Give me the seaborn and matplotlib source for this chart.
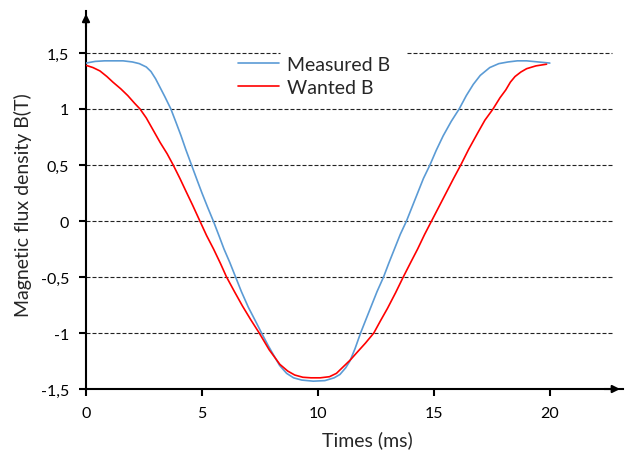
import pandas as pd
import seaborn as sns
import matplotlib.pyplot as plt
from matplotlib.lines import Line2D

# values
t_measured = [0, 0.4, 0.8, 1.2, 1.6, 2.0, 2.3, 2.6, 2.8, 3.0, 3.2, 3.4, 3.66, 3.9,
              4.1, 4.3, 4.55, 4.8, 5.0, 5.25, 5.49, 5.75, 5.95, 6.2, 6.45, 6.7, 7.0,
              7.3, 7.57, 7.85, 8.07, 8.35, 8.65, 8.95, 9.3, 9.8, 10.3, 10.7, 10.95,
              11.2, 11.38, 11.6, 11.84, 12.05, 12.3, 12.55, 12.83, 13.05, 13.3, 13.55,
              13.82, 14.05, 14.3, 14.55, 14.83, 15.1, 15.4, 15.75, 16.09, 16.4, 16.7,
              17.0, 17.41, 17.8, 18.2, 18.6, 19.0, 19.5, 20.0]
b_measured = [1.41, 1.425, 1.43, 1.43, 1.43, 1.42, 1.405, 1.375, 1.335, 1.27, 1.19, 1.11,
              1.0, 0.87, 0.76, 0.64, 0.5, 0.36, 0.25, 0.12, 0.0, -0.14, -0.25, -0.37,
              -0.5, -0.63, -0.77, -0.89, -1.0, -1.11, -1.19, -1.29, -1.36, -1.4, -1.42,
              -1.43, -1.425, -1.4, -1.37, -1.31, -1.25, -1.14, -1.0, -0.89, -0.76,
              -0.63, -0.5, -0.38, -0.25, -0.12, 0.0, 0.12, 0.25, 0.38, 0.5, 0.63, 0.76,
              0.89, 1.0, 1.12, 1.22, 1.3, 1.37, 1.405, 1.42, 1.43, 1.43, 1.42, 1.41]

t_wanted = [0, 0.3, 0.6, 0.9, 1.16, 1.5, 1.8, 2.1, 2.33, 2.6, 2.9, 3.2, 3.5, 3.76, 4.05,
            4.3, 4.6, 4.91, 5.2, 5.5, 5.8, 6.06, 6.4, 6.75, 7.1, 7.47, 7.9, 8.36, 8.7,
            9.0, 9.35, 9.7, 10.1, 10.5, 10.8, 11.1, 11.4, 11.7, 12.05, 12.41, 12.7,
            13.0, 13.35, 13.68, 14.0, 14.3, 14.6, 14.9, 15.2, 15.5, 15.85, 16.16, 16.5,
            16.9, 17.2, 17.55, 17.85, 18.1, 18.3, 18.5, 18.75, 19.0, 19.4, 19.86]
b_wanted = [1.39, 1.37, 1.34, 1.29, 1.24, 1.18, 1.12, 1.05, 1.0, 0.92, 0.81, 0.7, 0.6,
            0.5, 0.38, 0.27, 0.14, 0.0, -0.13, -0.25, -0.38, -0.5, -0.63, -0.76, -0.88,
            -1.0, -1.15, -1.28, -1.34, -1.375, -1.395, -1.4, -1.4, -1.39, -1.36, -1.3,
            -1.24, -1.17, -1.09, -1.0, -0.89, -0.78, -0.64, -0.5, -0.37, -0.25, -0.12,
            0.0, 0.12, 0.24, 0.38, 0.5, 0.64, 0.79, 0.9, 1.0, 1.1, 1.17, 1.24, 1.29,
            1.33, 1.36, 1.385, 1.4]

x_ticks = [0, 5, 10, 15, 20]
y_ticks = [-1.5, -1, -0.5, 0, 0.5, 1, 1.5]
y_labels = ["-1,5", "-1", "-0,5", "0", "0,5", "1", "1,5"]
grid_levels = [-1, -0.5, 0, 0.5, 1]

colors = {"Measured B": "#5b9bd5", "Wanted B": "#ff0000"}

sns.set_style("white")
plt.rcParams["font.family"] = ["Lato", "DejaVu Sans"]

data = pd.concat([
    pd.DataFrame({"t": t_measured, "B": b_measured, "series": "Measured B"}),
    pd.DataFrame({"t": t_wanted, "B": b_wanted, "series": "Wanted B"}),
])

fig = plt.figure(figsize=(6.25, 4.56), dpi=100)
ax = fig.add_axes([0.1376, 0.1447, 0.859, 0.829])

# dashed reference lines, the 1,5 one is cut where the legend sits
dash = (0, (3.6, 1.8))
ax.hlines(grid_levels, 0, 22.7, colors="#222222", linestyles=dash, linewidth=0.8, zorder=1)
ax.hlines(1.5, 0, 8.36, colors="#222222", linestyles=dash, linewidth=0.8, zorder=1)
ax.hlines(1.5, 13.84, 22.7, colors="#222222", linestyles=dash, linewidth=0.8, zorder=1)

sns.lineplot(data=data, x="t", y="B", hue="series", palette=colors, sort=False,
             estimator=None, linewidth=1.2, legend=False, ax=ax, zorder=3)
for line in ax.get_lines():
    line.set_solid_joinstyle("round")

ax.set_xlim(0, 23.15)
ax.set_ylim(-1.5, 1.875)
ax.set_xticks(x_ticks)
ax.set_xticklabels([str(v) for v in x_ticks])
ax.set_yticks(y_ticks)
ax.set_yticklabels(y_labels)
ax.tick_params(direction="out", length=5, width=1.5, labelsize=11.5, pad=7,
               colors="black", bottom=True, left=True)

sns.despine(ax=ax)
for side in ["left", "bottom"]:
    ax.spines[side].set_linewidth(1.5)
    ax.spines[side].set_color("black")

# axis arrows
arrow = dict(arrowstyle="-|>", color="black", lw=1.5, mutation_scale=11)
ax.annotate("", xy=(1.0, 0), xytext=(0.96, 0), xycoords="axes fraction", arrowprops=arrow)
ax.annotate("", xy=(0, 1.0), xytext=(0, 0.95), xycoords="axes fraction", arrowprops=arrow)

ax.set_xlabel("Times (ms)", fontsize=14)
ax.xaxis.set_label_coords(0.525, -0.108)
ax.set_ylabel("Magnetic flux density B(T)", fontsize=14)
ax.yaxis.set_label_coords(-0.10, 0.489)

handles = [Line2D([], [], color=colors[k], lw=1.2) for k in colors]
ax.legend(handles, list(colors), loc="upper left", bbox_to_anchor=(238 / 625, 1 - 57 / 456),
          bbox_transform=fig.transFigure, frameon=False, fontsize=14, handlelength=2.1,
          handletextpad=0.4, borderpad=0, borderaxespad=0, labelspacing=0.3)

fig.savefig("out.png", dpi=100)
